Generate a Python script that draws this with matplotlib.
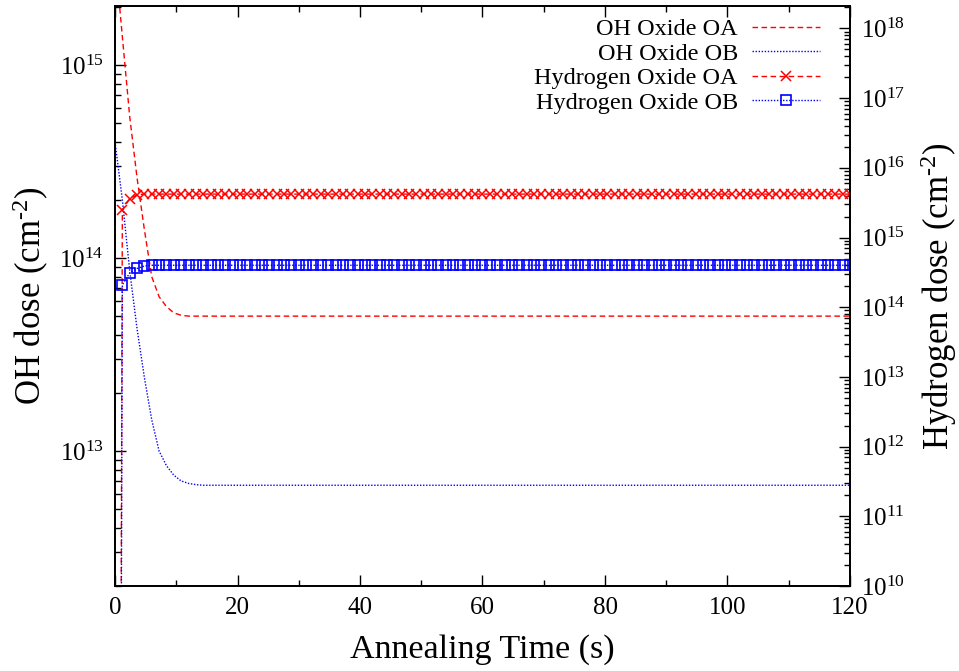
import numpy as np
import matplotlib
matplotlib.use('Agg')
import matplotlib.pyplot as plt
from matplotlib.ticker import LogLocator, NullFormatter, MultipleLocator

plt.rcParams['font.family'] = ['Liberation Serif', 'DejaVu Serif']
plt.rcParams['mathtext.fontset'] = 'custom'
plt.rcParams['mathtext.rm'] = 'Liberation Serif'
plt.rcParams['mathtext.it'] = 'Liberation Serif:italic'

# time grid (s), one sample every 1.2 s
time_s = [round(1.2 * i, 1) for i in range(101)]

oh_oa_head = [3.7e15, 1.4e15, 5.4e14, 2.6e14, 1.4e14, 8.0e13, 6.3e13, 5.6e13, 5.2e13, 5.05e13]
oh_oa_plateau = 5.0e13
oh_ob_head = [4.0e14, 2.0e14, 8.6e13, 4.3e13, 2.4e13, 1.45e13, 1.0e13, 8.4e12, 7.5e12,
              7.0e12, 6.8e12, 6.7e12]
oh_ob_plateau = 6.65e12

# hydrogen doses (cm^-2), right axis; ~0 at t=0
h_oa_head = [1e-20, 2.5e15, 3.6e15, 4.1e15]
h_oa_plateau = 4.2e15
h_ob_head = [1e-20, 2.1e14, 3.1e14, 3.6e14, 3.9e14]
h_ob_plateau = 4.0e14


def fill(head, plateau):
    return head + [plateau] * (len(time_s) - len(head))


oh_oa = fill(oh_oa_head, oh_oa_plateau)
oh_ob = fill(oh_ob_head, oh_ob_plateau)
h_oa = fill(h_oa_head, h_oa_plateau)
h_ob = fill(h_ob_head, h_ob_plateau)

fig = plt.figure(figsize=(9.59, 6.71), dpi=100)
ax = fig.add_axes([115 / 959, 1 - 586 / 671, 735 / 959, 580 / 671])
ax2 = ax.twinx()

l1, = ax.plot(time_s, oh_oa, color='#ff0000', lw=1.0, ls=(0, (4, 2.5)),
              label='OH Oxide OA')
l2, = ax.plot(time_s, oh_ob, color='#0000ff', lw=1.0, ls=(0, (1, 1.2)),
              label='OH Oxide OB')
l3, = ax2.plot(time_s, h_oa, color='#ff0000', lw=1.0, ls=(0, (4, 2.5)),
               marker='x', ms=7.5, mew=1.1, label='Hydrogen Oxide OA')
l4, = ax2.plot(time_s, h_ob, color='#0000ff', lw=1.0, ls=(0, (1, 1.2)),
               marker='s', ms=6.5, mew=1.2, mfc='none', label='Hydrogen Oxide OB')

ax.set_xlim(0, 120)
ax.set_yscale('log')
ax.set_ylim(2e12, 2.02e15)
ax2.set_yscale('log')
ax2.set_ylim(1e10, 2.1e18)

ax.xaxis.set_major_locator(MultipleLocator(20))
ax.xaxis.set_minor_locator(MultipleLocator(10))
for a in (ax, ax2):
    a.yaxis.set_major_locator(LogLocator(base=10, numticks=20))
    a.yaxis.set_minor_locator(LogLocator(base=10, subs=np.arange(2, 10), numticks=50))
    a.yaxis.set_minor_formatter(NullFormatter())

ax.tick_params(axis='x', which='both', direction='in', top=True, labelsize=18, pad=8)
ax.tick_params(axis='x', which='major', length=8, width=1.0)
ax.tick_params(axis='x', which='minor', length=4, width=1.0)
ax.tick_params(axis='y', which='both', direction='in', right=False, labelsize=18, pad=8)
ax.tick_params(axis='y', which='major', length=8, width=1.0)
ax.tick_params(axis='y', which='minor', length=4, width=1.0)
ax2.tick_params(axis='y', which='both', direction='in', labelsize=18, pad=8)
ax2.tick_params(axis='y', which='major', length=8, width=1.0)
ax2.tick_params(axis='y', which='minor', length=4, width=1.0)

for a in (ax, ax2):
    for s in a.spines.values():
        s.set_linewidth(1.3)

ax.set_xlabel('Annealing Time (s)', fontsize=24.5, labelpad=11)
ax.set_ylabel('OH dose (cm$^{\u20102}$)', fontsize=25, labelpad=6)
ax2.set_ylabel('Hydrogen dose (cm$^{\u20102}$)', fontsize=25, labelpad=9)

leg = ax2.legend(handles=[l1, l2, l3, l4], loc='upper right', frameon=False,
                 markerfirst=False, fontsize=17.5, handlelength=2.8, numpoints=1,
                 labelspacing=0.1, borderaxespad=0.3, handletextpad=0.6,
                 bbox_to_anchor=(0.983, 1.008))
for t in leg.get_texts():
    t.set_ha('right')

fig.savefig('out.png', dpi=100)
